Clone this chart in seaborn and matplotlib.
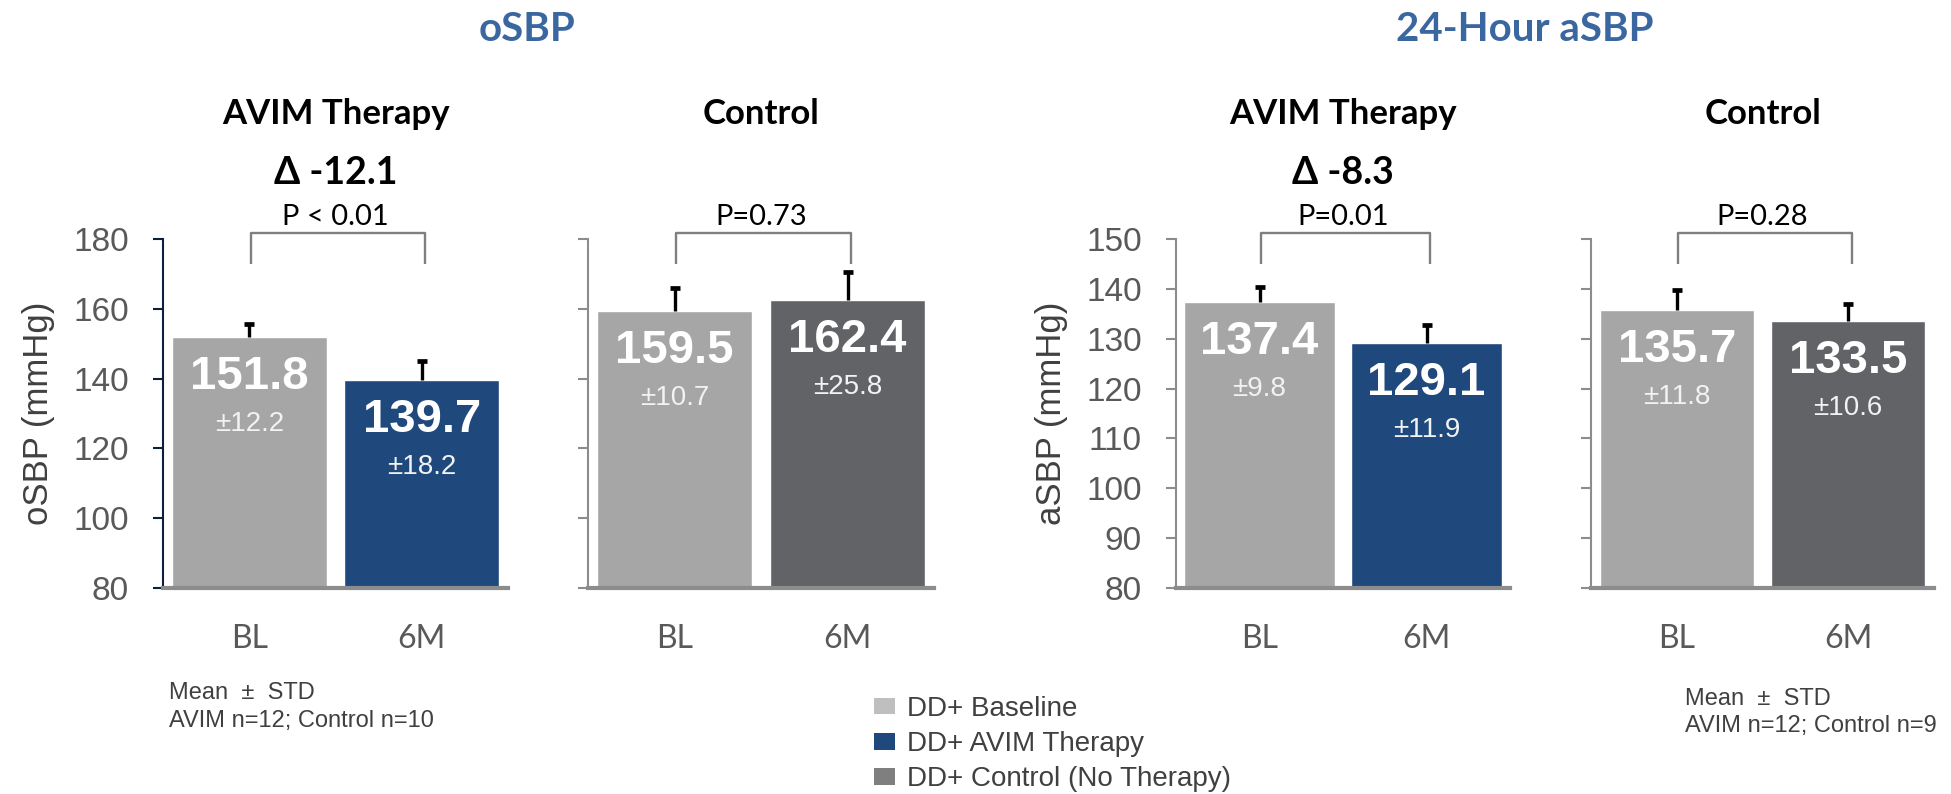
import matplotlib
matplotlib.use("Agg")
import matplotlib.pyplot as plt
import seaborn as sns
import pandas as pd
from matplotlib.patches import Patch

sns.set_style("white")
plt.rcParams['font.family'] = ['Liberation Sans', 'DejaVu Sans']

# ---------------- data ----------------
timepoints = ["BL", "6M"]
osbp_avim_mean = [151.8, 139.7]
osbp_avim_std = [12.2, 18.2]
osbp_avim_err = [3.8, 5.3]
osbp_ctrl_mean = [159.5, 162.4]
osbp_ctrl_std = [10.7, 25.8]
osbp_ctrl_err = [6.4, 8.2]
asbp_avim_mean = [137.4, 129.1]
asbp_avim_std = [9.8, 11.9]
asbp_avim_err = [3.0, 3.6]
asbp_ctrl_mean = [135.7, 133.5]
asbp_ctrl_std = [11.8, 10.6]
asbp_ctrl_err = [4.0, 3.5]

section_titles = ["oSBP", "24-Hour aSBP"]
group_titles = ["AVIM Therapy", "Control", "AVIM Therapy", "Control"]
deltas = ["Δ -12.1", None, "Δ -8.3", None]
pvalues = ["P < 0.01", "P=0.73", "P=0.01", "P=0.28"]
ylabels = ["oSBP (mmHg)", "aSBP (mmHg)"]
legend_labels = ["DD+ Baseline", "DD+ AVIM Therapy", "DD+ Control (No Therapy)"]
notes_left = ["Mean  \u00b1  STD", "AVIM n=12; Control n=10"]
notes_right = ["Mean  \u00b1  STD", "AVIM n=12; Control n=9"]

C_BL = "#A6A6A6"
C_AVIM = "#1F497D"
C_CTRL = "#626367"
LEG_COLORS = ["#BFBFBF", "#1F497D", "#7F7F7F"]
TITLE_BLUE = "#3A67A0"
CALIBRI = ['Lato', 'DejaVu Sans']

W, H = 1951, 794
fig = plt.figure(figsize=(W / 100, H / 100), dpi=100)

AX_TOP, AX_BOT = 239, 588

def add_ax(left_px, width_px):
    return fig.add_axes([left_px / W, 1 - AX_BOT / H, width_px / W, (AX_BOT - AX_TOP) / H])

panels = [
    dict(left=163, width=345, mean=osbp_avim_mean, std=osbp_avim_std, err=osbp_avim_err,
         colors=[C_BL, C_AVIM], ylim=(80, 180), step=20, spine="#0E1F3D", labels=True, ylabel=ylabels[0]),
    dict(left=588, width=346, mean=osbp_ctrl_mean, std=osbp_ctrl_std, err=osbp_ctrl_err,
         colors=[C_BL, C_CTRL], ylim=(80, 180), step=20, spine="#8C8C8C", labels=False, ylabel=None),
    dict(left=1176, width=334, mean=asbp_avim_mean, std=asbp_avim_std, err=asbp_avim_err,
         colors=[C_BL, C_AVIM], ylim=(80, 150), step=10, spine="#8C8C8C", labels=True, ylabel=ylabels[1]),
    dict(left=1591, width=343, mean=asbp_ctrl_mean, std=asbp_ctrl_std, err=asbp_ctrl_err,
         colors=[C_BL, C_CTRL], ylim=(80, 150), step=10, spine="#8C8C8C", labels=False, ylabel=None),
]

axes = []
for i, p in enumerate(panels):
    ax = add_ax(p["left"], p["width"])
    axes.append(ax)
    df = pd.DataFrame({"time": timepoints, "value": p["mean"]})
    sns.barplot(data=df, x="time", y="value", hue="time", palette=p["colors"],
                width=0.9, errorbar=None, legend=False, ax=ax, saturation=1)
    eb = ax.errorbar([0, 1], p["mean"], yerr=[[0, 0], p["err"]], fmt="none",
                     ecolor="black", elinewidth=2.4, capsize=3.8, capthick=3.4, zorder=3)
    # keep only the upper caps
    for cl in eb[1]:
        yd = list(cl.get_ydata())
        if all(abs(a - b) < 1e-9 for a, b in zip(yd, p["mean"])):
            cl.set_visible(False)
    ax.set_xlim(-0.5, 1.5)
    ax.set_ylim(*p["ylim"])
    ax.set_yticks(list(range(p["ylim"][0], p["ylim"][1] + 1, p["step"])))
    ax.set_xlabel("")
    ax.set_ylabel("")
    for s in ["top", "right"]:
        ax.spines[s].set_visible(False)
    ax.spines["left"].set_color(p["spine"])
    ax.spines["left"].set_linewidth(1.5)
    ax.spines["bottom"].set_color("#8C8C8C")
    ax.spines["bottom"].set_linewidth(3.0)
    ax.tick_params(axis="y", direction="out", length=7.5, width=1.5, color=p["spine"],
                   labelsize=24, labelcolor="#595959", pad=17, left=True,
                   labelleft=p["labels"])
    ax.tick_params(axis="x", length=0, pad=26)
    for lab in ax.get_xticklabels():
        lab.set_fontfamily(CALIBRI)
        lab.set_fontsize(23)
        lab.set_color("#595959")
    if p["ylabel"]:
        ax.set_ylabel(p["ylabel"], fontsize=25, color="#404040", labelpad=13)

    # value labels inside bars
    for j in range(2):
        ax.annotate(f"{p['mean'][j]:.1f}", (j, p["mean"][j]), xytext=(0, -40),
                    textcoords="offset pixels", ha="center", va="center",
                    fontsize=34, fontweight="bold", color="white")
        ax.annotate(f"\u00b1{p['std'][j]:.1f}", (j, p["mean"][j]), xytext=(0, -87),
                    textcoords="offset pixels", ha="center", va="center",
                    fontsize=20, color="#F2F2F2")

    # bracket + p value
    tr = ax.get_xaxis_transform()
    hpx = AX_BOT - AX_TOP
    top = 1 + 6 / hpx
    leg = 1 - 25 / hpx
    ax.plot([0.01, 0.01, 1.02, 1.02], [leg, top, top, leg], transform=tr, color="#7F7F7F",
            lw=1.7, clip_on=False, solid_joinstyle="round", solid_capstyle="butt")
    ax.text(0.5, 1 + 14 / hpx, pvalues[i], transform=tr, ha="center", va="baseline",
            fontsize=21, family=CALIBRI, color="black")
    if deltas[i]:
        ax.text(0.5, 1 + 55 / hpx, deltas[i], transform=tr, ha="center", va="baseline",
                fontsize=27, fontweight="bold", family=CALIBRI, color="black")
    ax.text(0.5, 1 + 115 / hpx, group_titles[i], transform=tr, ha="center", va="baseline",
            fontsize=25, fontweight="bold", family=CALIBRI, color="black")

# section titles
fig.text(527 / W, 1 - 41 / H, section_titles[0], ha="center", va="baseline",
         fontsize=29, fontweight="bold", family=CALIBRI, color=TITLE_BLUE)
fig.text(1525 / W, 1 - 41 / H, section_titles[1], ha="center", va="baseline",
         fontsize=29, fontweight="bold", family=CALIBRI, color=TITLE_BLUE)

# notes
for k, t in enumerate(notes_left):
    fig.text(169 / W, 1 - (699 + 28 * k) / H, t, ha="left", va="baseline",
             fontsize=17, color="#404040")
for k, t in enumerate(notes_right):
    fig.text(1685 / W, 1 - (705 + 27 * k) / H, t, ha="left", va="baseline",
             fontsize=17, color="#404040")

# legend
handles = [Patch(facecolor=c, edgecolor="none") for c in LEG_COLORS]
fig.legend(handles, legend_labels, loc="upper left",
           bbox_to_anchor=(874 / W, 1 - 696 / H), frameon=False, fontsize=20,
           handlelength=0.76, handleheight=0.54, handletextpad=0.43,
           labelspacing=0.33, borderpad=0, borderaxespad=0, labelcolor="#404040")

fig.savefig("out.png", dpi=100)
